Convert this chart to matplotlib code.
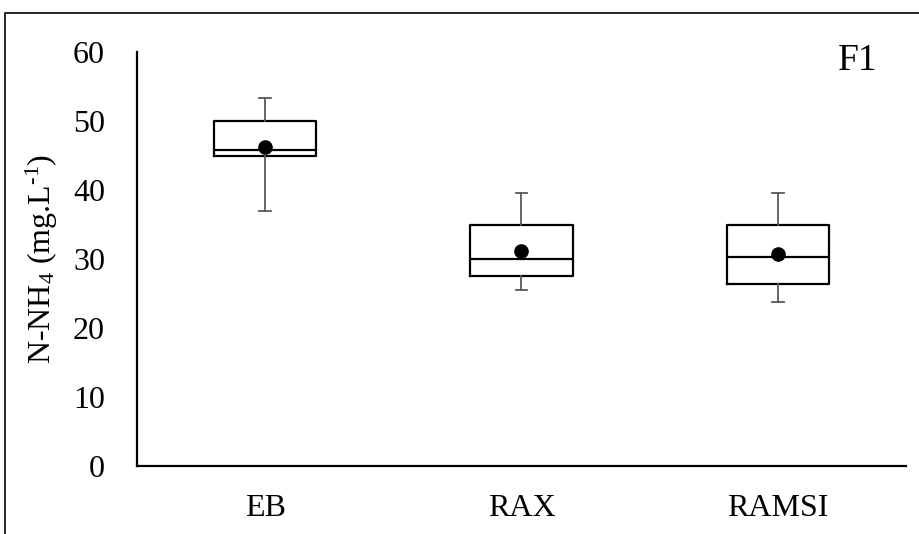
import matplotlib
matplotlib.use("Agg")
import matplotlib.pyplot as plt
from matplotlib.patches import Rectangle

categories = ["EB", "RAX", "RAMSI"]
whisker_low = [36.9, 25.5, 23.8]
q1 = [45.0, 27.5, 26.4]
medians = [45.8, 30.0, 30.3]
q3 = [50.0, 34.9, 34.9]
whisker_high = [53.4, 39.5, 39.5]
means = [46.3, 31.2, 30.7]
yticks = [0, 10, 20, 30, 40, 50, 60]
ylabel = r"N-NH$_4$ (mg.L$^{\text{-}1}$)"
panel = "F1"

plt.rcParams['font.family'] = ['Liberation Serif', 'DejaVu Serif']
plt.rcParams['mathtext.fontset'] = 'custom'
plt.rcParams['mathtext.rm'] = 'Liberation Serif'
plt.rcParams['mathtext.it'] = 'Liberation Serif:italic'

fig = plt.figure(figsize=(9.2, 5.34), dpi=100)
W, H = 920, 534
ax = fig.add_axes([137 / W, 1 - 466 / H, (906 - 137) / W, (466 - 52) / H])

stats = []
for i, c in enumerate(categories):
    stats.append(dict(label=c, whislo=whisker_low[i], q1=q1[i], med=medians[i],
                      q3=q3[i], whishi=whisker_high[i], mean=means[i], fliers=[]))

positions = list(range(len(categories)))
ax.bxp(stats, positions=positions, widths=0.4, showmeans=True, showfliers=False,
       boxprops=dict(color='black', linewidth=1.6),
       medianprops=dict(color='black', linewidth=1.6),
       whiskerprops=dict(color='#595959', linewidth=1.3),
       capprops=dict(color='#595959', linewidth=1.3),
       capwidths=0.045,
       meanprops=dict(marker='o', markerfacecolor='black', markeredgecolor='black',
                      markersize=9.5))

ax.set_xlim(-0.5, len(categories) - 0.5)
ax.set_ylim(0, 60)
ax.set_yticks(yticks)
ax.set_xticks(positions)
ax.set_xticklabels(categories)
for s in ['top', 'right']:
    ax.spines[s].set_visible(False)
for s in ['left', 'bottom']:
    ax.spines[s].set_linewidth(1.6)
    ax.spines[s].set_color('black')
ax.tick_params(axis='y', length=0, pad=23, labelsize=23)
ax.tick_params(axis='x', length=0, pad=20, labelsize=23)
ax.set_ylabel(ylabel, fontsize=23)
ax.yaxis.set_label_coords(-(137 - 60) / (906 - 137), 0.5)
ax.text((877 - 137) / (906 - 137), (466 - 70) / (466 - 52), panel,
        transform=ax.transAxes, ha='right', va='baseline', fontsize=27)

fig.patches.append(Rectangle((5 / W, -0.1), 1.2, 1 - 13 / H + 0.1,
                             transform=fig.transFigure, fill=False,
                             edgecolor='black', linewidth=1.2))

fig.savefig("out.png", dpi=100)
